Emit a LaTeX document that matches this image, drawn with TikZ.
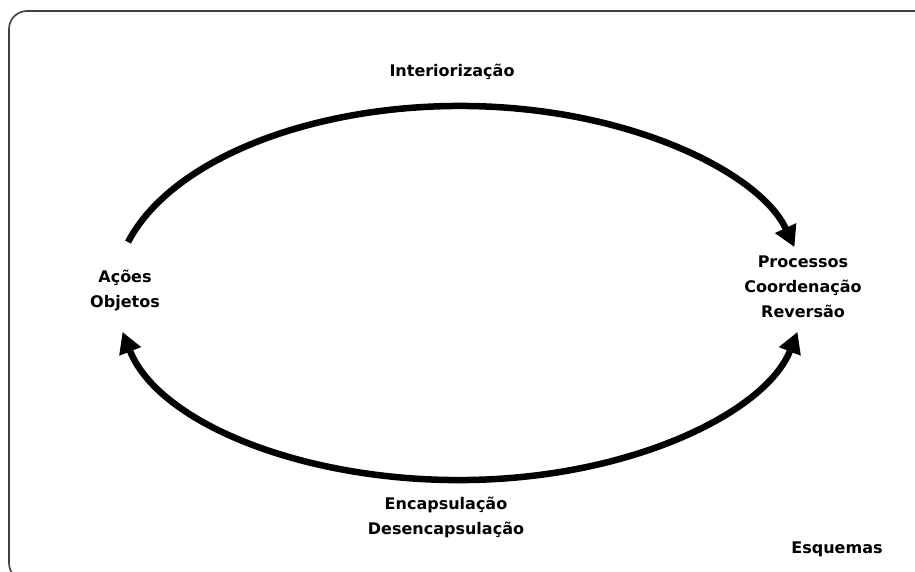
\documentclass[tikz,border=0pt]{standalone}
\usepackage{fontspec}
\setmainfont{DejaVu Sans}
\usetikzlibrary{arrows.meta}
\begin{document}
\begin{tikzpicture}[x=1pt,y=1pt,
  lbl/.style={font=\fontsize{16}{25}\selectfont\bfseries, align=center, inner sep=0pt},
  flow/.style={line width=6.5pt, -{Triangle[length=21pt,width=22pt]}},
  flowboth/.style={line width=6.5pt, {Triangle[length=21pt,width=22pt]}-{Triangle[length=21pt,width=22pt]}},
  frame/.style={draw=black!75, line width=1.6pt, rounded corners=18pt}]
\useasboundingbox (0,0) rectangle (915,572);
\clip (0,0) rectangle (915,572);
\draw[frame] (9,561) rectangle (945,-9);
\node[lbl] (interior) at (452,500) {Interiorização};
\node[lbl] (acoes) at (125,281) {Ações\\Objetos};
\node[lbl] (proc) at (803,285) {Processos\\Coordenação\\Reversão};
\node[lbl] (encap) at (446,55) {Encapsulação\\Desencapsulação};
\node[lbl] (esq) at (837,23) {Esquemas};
\coordinate (c) at (460,279);
\coordinate (topstart) at ([shift={(164.2:345pt and 187pt)}]c);
\coordinate (botstart) at ([shift={(192:345pt and 187pt)}]c);
\draw[flow] (topstart) arc[start angle=164.2, end angle=14.2, x radius=345pt, y radius=187pt];
\draw[flowboth] (botstart) arc[start angle=192, end angle=348, x radius=345pt, y radius=187pt];
\end{tikzpicture}
\end{document}
